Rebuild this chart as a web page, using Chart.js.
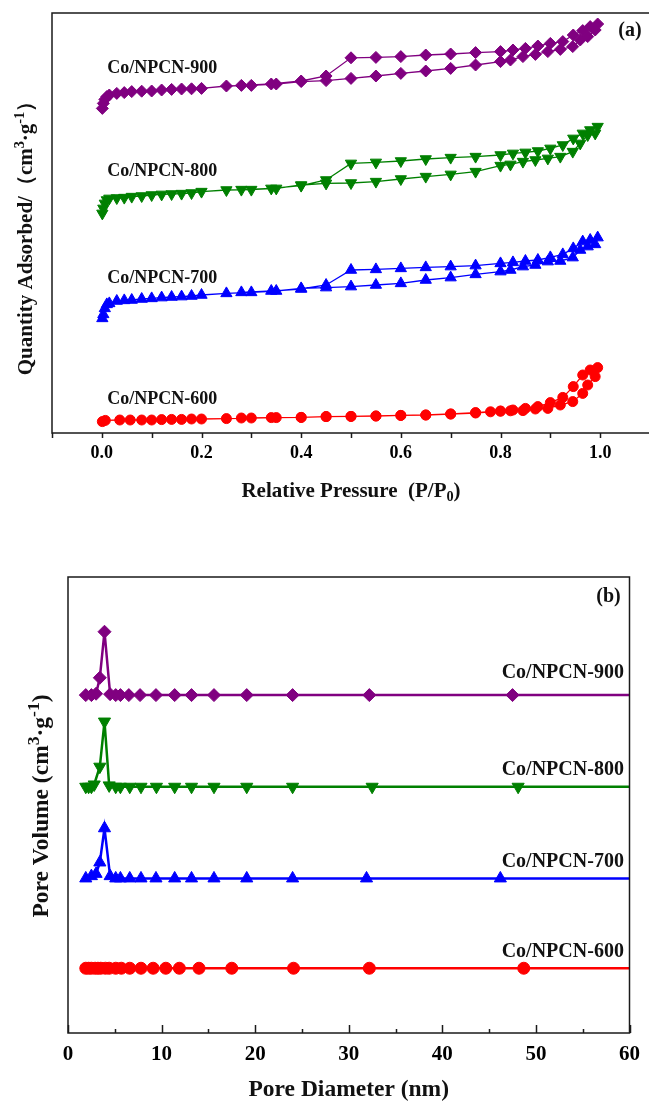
<!DOCTYPE html>
<html>
<head>
<meta charset="utf-8">
<script src="https://cdn.jsdelivr.net/npm/chart.js@4.4.0/dist/chart.umd.min.js"></script>
<style>
  html, body { margin: 0; padding: 0; background: #fff; overflow: hidden; width: 649px; height: 1104px; }
  #isoChart { position: absolute; left: 0; top: 0; }
  #poreChart { position: absolute; left: 0; top: 560px; }
</style>
</head>
<body>
<canvas id="isoChart" width="660" height="520"></canvas>
<canvas id="poreChart" width="649" height="544"></canvas>
<script>
const SERIF = '"Liberation Serif", "Times New Roman", serif';

const samples = ['Co/NPCN-600', 'Co/NPCN-700', 'Co/NPCN-800', 'Co/NPCN-900'];
const colors = ['#ff0000', '#0000ff', '#008000', '#800080'];
const markers = ['circle', 'triangle', 'triangle', 'rectRot'];
const markerTurn = [0, 0, 180, 0];

// relative pressure P/P0, adsorption then desorption branch
const adsP = [0.001, 0.003, 0.006, 0.01, 0.015, 0.03, 0.045, 0.06, 0.08, 0.10, 0.12, 0.14, 0.16, 0.18, 0.20,
  0.25, 0.30, 0.35, 0.40, 0.45, 0.50, 0.55, 0.60, 0.65, 0.70, 0.75, 0.80, 0.82, 0.845, 0.87, 0.895, 0.92,
  0.945, 0.96, 0.975, 0.99];
const adsP600 = [0.001, 0.007, 0.036, 0.057, 0.08, 0.10, 0.12, 0.14, 0.16, 0.18, 0.20, 0.25, 0.30, 0.35, 0.40,
  0.45, 0.50, 0.55, 0.60, 0.65, 0.70, 0.75, 0.78, 0.80, 0.82, 0.845, 0.87, 0.895, 0.92, 0.945, 0.965, 0.975, 0.99];
const desP = [0.995, 0.98, 0.965, 0.946, 0.925, 0.90, 0.875, 0.85, 0.825, 0.80, 0.75, 0.70, 0.65, 0.60, 0.55,
  0.50, 0.45, 0.40, 0.34, 0.28];

// quantity adsorbed (curves offset vertically)
const ads600 = [5.7, 6.3, 6.5, 6.5, 6.5, 6.5, 6.7, 6.8, 6.8, 7, 7, 7.2, 7.5, 7.7, 7.8, 8.2, 8.3, 8.5, 8.8, 9,
  9.5, 10, 10.6, 10.9, 11.1, 11.2, 12, 12.3, 14, 15.7, 19.8, 24, 28.2];
const des600 = [32.7, 31.5, 29, 23.2, 17.8, 15.2, 13.2, 12.3, 11.5, 11, 10.2, 9.5, 9, 8.8, 8.5, 8.3, 8.2, 7.8, 7.7, 7.5];
const ads700 = [57.3, 59.3, 62.3, 64.3, 64.8, 66, 66.3, 66.5, 67, 67.3, 67.7, 68, 68.2, 68.5, 69, 69.8, 70.3, 71,
  72.3, 72.7, 73.2, 74, 74.8, 76.5, 77.7, 79.3, 80.7, 81.5, 83.2, 84, 85.7, 86, 87.7, 91.5, 93.2, 94.3];
const des700 = [97.7, 96.5, 95.7, 92.3, 89.3, 87.8, 86.5, 86, 85.3, 84.8, 83.7, 83.2, 82.8, 82.3, 81.8, 81.5, 74, 72, 71, 70.3];
const ads800 = [109.8, 112.3, 114.8, 116.5, 117.3, 117.5, 117.7, 118.2, 118.5, 119, 119.3, 119.5, 119.7, 120, 120.7,
  121.5, 121.7, 122.3, 124, 124.8, 125, 125.7, 127, 128.2, 129.3, 130.7, 133.7, 134.3, 135.7, 136.5, 137.3, 138.2,
  140.7, 144.8, 149, 149.8];
const des800 = [153.2, 151.5, 149.8, 147.3, 144, 142.3, 141, 140.3, 139.8, 139, 138.2, 137.7, 137, 136, 135.3, 134.8,
  126.5, 123.7, 122.3, 121.7];
const ads900 = [162.3, 164.8, 166.8, 168.2, 169, 169.8, 170.2, 170.7, 170.9, 171, 171.5, 171.8, 172, 172.1, 172.3,
  173.5, 173.8, 174.5, 175.7, 176.2, 177.3, 178.5, 179.8, 181, 182.3, 184, 185.7, 186.5, 188.2, 189.3, 190.7, 191.8,
  193.2, 196.5, 198.2, 201.5];
const des900 = [204.5, 203.2, 201.2, 199, 195.7, 194.8, 193.5, 192.3, 191.5, 190.7, 190.2, 189.5, 189, 188.2, 187.8,
  187.6, 178.5, 176, 174.5, 173.8];

// BJH pore diameter (nm) and pore volume above each baseline
const dia600 = [1.9, 2.2, 2.5, 2.9, 3.2, 3.5, 4.0, 4.4, 5.1, 5.7, 6.6, 7.8, 9.1, 10.45, 11.9, 14.0, 17.5, 24.1, 32.2, 48.7, 75];
const vol600 = [0, 0, 0, 0, 0, 0, 0, 0, 0, 0, 0, 0, 0, 0, 0, 0, 0, 0, 0, 0, 0];
const dia700 = [1.9, 2.5, 3.0, 3.4, 3.9, 4.5, 5.1, 5.6, 6.6, 7.8, 9.4, 11.4, 13.2, 15.6, 19.1, 24.0, 31.9, 46.2, 75];
const vol700 = [0, 0.5, 1, 3.5, 11, 0.5, 0, 0, 0, 0, 0, 0, 0, 0, 0, 0, 0, 0, 0];
const dia800 = [1.9, 2.2, 2.5, 2.8, 3.4, 3.9, 4.4, 5.1, 5.6, 6.6, 7.8, 9.45, 11.4, 13.2, 15.6, 19.1, 24.0, 32.5, 48.1, 75];
const vol800 = [0, 0, 0, 0.5, 4.4, 14.3, 0.3, 0, 0, 0, 0, 0, 0, 0, 0, 0, 0, 0, 0, 0];
const dia900 = [1.9, 2.5, 3.0, 3.4, 3.9, 4.5, 5.1, 5.6, 6.5, 7.7, 9.4, 11.4, 13.2, 15.6, 19.1, 24.0, 32.2, 47.5, 75];
const vol900 = [0, 0, 0.3, 3.8, 13.9, 0.2, 0, 0, 0, 0, 0, 0, 0, 0, 0, 0, 0, 0, 0];
const poreShift = [14.2, 33.9, 54.0, 74.1];

// where the sample names sit, in axis units
const isoLabelP = 0.011;
const isoLabelY = [17, 77.5, 131, 182.5];
const poreLabelD = 59.4;
const poreLabelY = [17.8, 37.6, 57.7, 79];

function pairs(xs, ys, shift = 0) {
  return xs.map((v, i) => ({ x: v, y: ys[i] + shift }));
}

function drawRich(ctx, parts, size, supScale) {
  // centred on the current origin
  const items = parts.map(p => {
    const s = (p.sup || p.sub) ? size * supScale : size;
    ctx.font = `bold ${s}px ${SERIF}`;
    return { t: p.t, s, w: ctx.measureText(p.t).width, dy: p.sup ? -size * 0.4 : p.sub ? size * 0.2 : 0 };
  });
  const total = items.reduce((a, it) => a + it.w, 0);
  let x = -total / 2;
  ctx.textAlign = 'left';
  ctx.textBaseline = 'alphabetic';
  items.forEach(it => {
    ctx.font = `bold ${it.s}px ${SERIF}`;
    ctx.fillText(it.t, x, size * 0.34 + it.dy);
    x += it.w;
  });
}

const decor = {
  id: 'decor',
  afterDraw(chart, args, o) {
    const { ctx, chartArea: a, scales: { x, y } } = chart;
    ctx.save();
    ctx.strokeStyle = '#1a1a1a';
    ctx.lineWidth = 1.5;
    ctx.strokeRect(a.left, a.top, a.right - a.left, a.bottom - a.top);

    // tick marks on the bottom axis
    x.ticks.forEach(t => {
      const px = Math.round(x.getPixelForValue(t.value)) + 0.5;
      const k = t.value / o.major;
      const len = Math.abs(k - Math.round(k)) < 1e-6 ? o.tickLen : o.minorLen;
      ctx.beginPath();
      ctx.moveTo(px, a.bottom);
      ctx.lineTo(px, a.bottom + (o.inward ? -len : len));
      ctx.stroke();
    });

    ctx.fillStyle = '#111';
    ctx.font = `bold ${o.labelSize}px ${SERIF}`;
    ctx.textAlign = o.labelAlign;
    ctx.textBaseline = 'middle';
    samples.forEach((s, i) => {
      ctx.fillText(s, x.getPixelForValue(o.labelX), y.getPixelForValue(o.labelY[i]));
    });

    ctx.textAlign = 'center';
    ctx.font = `bold ${o.tagSize}px ${SERIF}`;
    ctx.fillText(o.tag, a.right + o.tagDx, a.top + o.tagDy);

    const cx = (a.left + a.right) / 2;
    const cy = (a.top + a.bottom) / 2;
    ctx.save();
    ctx.translate(cx, a.bottom + o.xTitleDy);
    drawRich(ctx, o.xTitle, o.titleSize, o.supScale);
    ctx.restore();
    ctx.save();
    ctx.translate(a.left + o.yTitleDx, cy + o.yTitleDy);
    ctx.rotate(-Math.PI / 2);
    drawRich(ctx, o.yTitle, o.titleSize, o.supScale);
    ctx.restore();
    ctx.restore();
  }
};

function seriesStyle(i, radius, width) {
  return {
    borderColor: colors[i],
    backgroundColor: colors[i],
    pointBackgroundColor: colors[i],
    pointBorderColor: colors[i],
    pointBorderWidth: 1,
    pointStyle: markers[i],
    pointRotation: markerTurn[i],
    pointRadius: radius[i],
    borderWidth: width,
    tension: 0,
    fill: false
  };
}

function initializeIsotherms() {
  const ctx = document.getElementById('isoChart').getContext('2d');
  const branches = [[adsP600, ads600, des600], [adsP, ads700, des700], [adsP, ads800, des800], [adsP, ads900, des900]];
  const radius = [5, 6.5, 6.5, 6];
  const datasets = branches.map((b, i) => Object.assign({
    label: samples[i],
    data: pairs(b[0], b[1]).concat(pairs(desP, b[2]))
  }, seriesStyle(i, radius, 1.3)));

  new Chart(ctx, {
    type: 'line',
    data: { datasets },
    options: {
      responsive: false,
      animation: false,
      devicePixelRatio: 1,
      layout: { padding: { left: 52, top: 13, right: 10, bottom: 0 } },
      scales: {
        x: {
          type: 'linear', min: -0.1, max: 1.1,
          grid: { display: false, drawTicks: false },
          border: { display: false },
          afterFit: s => { s.height = 87; },
          ticks: {
            stepSize: 0.1, autoSkip: false, maxRotation: 0, padding: 10, color: '#000',
            font: { family: SERIF, weight: 'bold', size: 18 },
            callback: v => {
              const k = Math.round(v * 10);
              return (k % 2 === 0 && k >= 0 && k <= 10) ? (k / 10).toFixed(1) : '';
            }
          }
        },
        y: { type: 'linear', min: 0, max: 210, display: false }
      },
      plugins: {
        legend: { display: false },
        tooltip: { enabled: false },
        decor: {
          major: 0.1, tickLen: 5, minorLen: 5, inward: false,
          labelX: isoLabelP, labelY: isoLabelY, labelSize: 18, labelAlign: 'left',
          tag: '(a)', tagSize: 20, tagDx: -20, tagDy: 18,
          titleSize: 21, supScale: 0.68,
          xTitle: [{ t: 'Relative Pressure  (P/P' }, { t: '0', sub: true }, { t: ')' }],
          xTitleDy: 57,
          yTitle: [{ t: 'Quantity Adsorbed/（cm' }, { t: '3', sup: true }, { t: '·g' }, { t: '-1', sup: true }, { t: '）' }],
          yTitleDx: -27, yTitleDy: 10
        }
      }
    },
    plugins: [decor]
  });
}

function initializePores() {
  const ctx = document.getElementById('poreChart').getContext('2d');
  const curves = [[dia600, vol600], [dia700, vol700], [dia800, vol800], [dia900, vol900]];
  const radius = [6, 7, 7, 6.5];
  const datasets = curves.map((c, i) => Object.assign({
    label: samples[i],
    data: pairs(c[0], c[1], poreShift[i]),
    clip: 0
  }, seriesStyle(i, radius, 2.5)));

  new Chart(ctx, {
    type: 'line',
    data: { datasets },
    options: {
      responsive: false,
      animation: false,
      devicePixelRatio: 1,
      layout: { padding: { left: 68, top: 17, right: 14, bottom: 0 } },
      scales: {
        x: {
          type: 'linear', min: 0, max: 60,
          grid: { display: false, drawTicks: false },
          border: { display: false },
          afterFit: s => { s.height = 71; },
          ticks: {
            stepSize: 5, autoSkip: false, maxRotation: 0, padding: 9, color: '#000',
            font: { family: SERIF, weight: 'bold', size: 21 },
            callback: v => (v % 10 === 0 ? String(v) : '')
          }
        },
        y: { type: 'linear', min: 0, max: 100, display: false }
      },
      plugins: {
        legend: { display: false },
        tooltip: { enabled: false },
        decor: {
          major: 10, tickLen: 8, minorLen: 4, inward: true,
          labelX: poreLabelD, labelY: poreLabelY, labelSize: 20, labelAlign: 'right',
          tag: '(b)', tagSize: 20, tagDx: -21, tagDy: 20,
          titleSize: 23.5, supScale: 0.75,
          xTitle: [{ t: 'Pore Diameter (nm)' }],
          xTitleDy: 55,
          yTitle: [{ t: 'Pore Volume (cm' }, { t: '3', sup: true }, { t: '·g' }, { t: '-1', sup: true }, { t: ')' }],
          yTitleDx: -28, yTitleDy: 1
        }
      }
    },
    plugins: [decor]
  });
}

initializeIsotherms();
initializePores();
</script>
</body>
</html>
